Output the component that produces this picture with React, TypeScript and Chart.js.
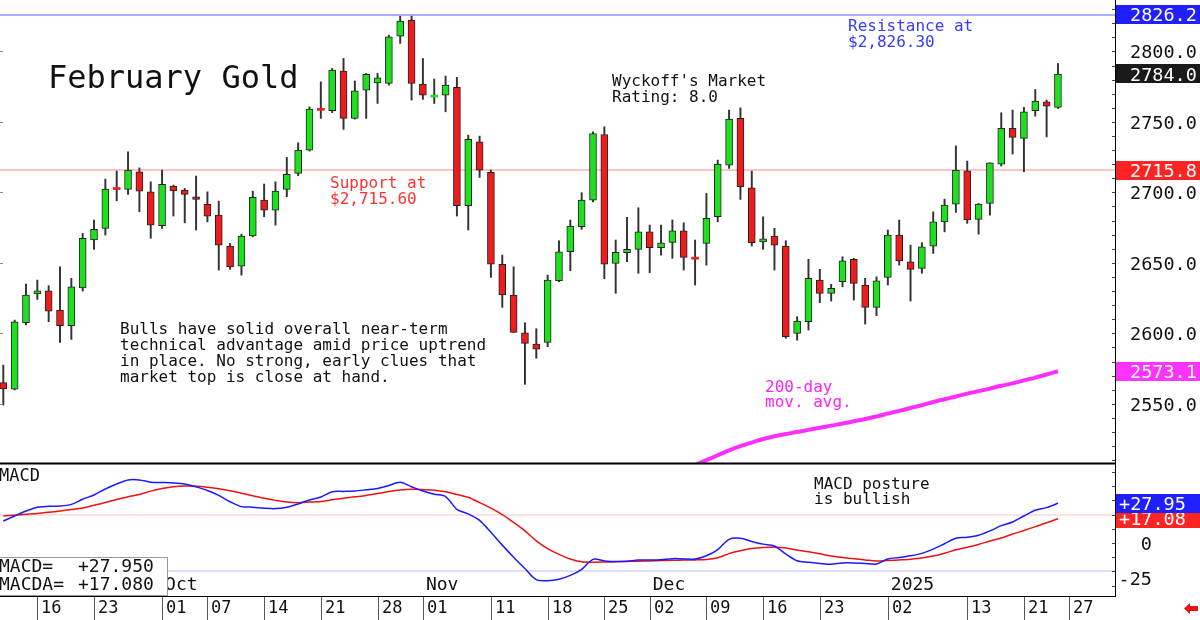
import React, { useEffect, useRef } from "react";
import { Chart, registerables } from "chart.js";
Chart.register(...registerables);

// ---- data (trading days from Sep 11 2024 to Jan 24 2025) ----
const opens = [
  2565.0, 2560.3, 2607.5, 2627.9, 2630.2, 2616.5, 2605.4, 2632.3, 2666.2, 2674.5,
  2703.4, 2702.1, 2714.6, 2700.4, 2676.3, 2704.5, 2701.6, 2696.9, 2691.5, 2683.9,
  2661.9, 2647.7, 2669.2, 2694.5, 2687.4, 2702.1, 2713.5, 2730.0, 2759.3, 2757.9,
  2786.0, 2752.5, 2772.6, 2777.7, 2777.3, 2810.8, 2822.2, 2776.8, 2767.6, 2769.0,
  2774.5, 2690.5, 2735.9, 2714.2, 2648.9, 2627.2, 2600.4, 2592.4, 2593.6, 2637.3,
  2657.9, 2675.6, 2694.5, 2741.1, 2649.6, 2657.2, 2659.6, 2672.0, 2660.7, 2664.5,
  2672.8, 2653.8, 2663.8, 2682.7, 2719.4, 2752.5, 2703.3, 2664.9, 2669.0, 2661.9,
  2600.0, 2608.2, 2637.8, 2628.4, 2636.6, 2652.5, 2634.3, 2618.4, 2639.7, 2669.7,
  2650.8, 2646.1, 2661.9, 2679.1, 2691.7, 2715.3, 2680.9, 2692.2, 2720.0, 2745.4,
  2738.3, 2757.9, 2764.3, 2760.3,
];
const highs = [
  2577.5, 2609.4, 2635.0, 2637.8, 2633.8, 2647.2, 2639.0, 2670.9, 2680.4, 2709.4,
  2715.1, 2728.8, 2717.4, 2707.5, 2715.8, 2705.2, 2702.8, 2711.6, 2700.4, 2693.8,
  2663.8, 2670.4, 2700.9, 2705.9, 2707.5, 2724.8, 2735.2, 2760.7, 2778.4, 2788.0,
  2795.0, 2779.0, 2784.4, 2784.4, 2811.6, 2825.0, 2825.0, 2795.0, 2780.4, 2782.5,
  2781.6, 2740.6, 2739.9, 2715.8, 2655.5, 2647.2, 2607.5, 2603.3, 2641.3, 2665.7,
  2680.4, 2699.8, 2743.0, 2746.5, 2666.2, 2682.3, 2689.1, 2676.8, 2676.8, 2680.4,
  2678.4, 2666.2, 2699.3, 2722.9, 2758.4, 2760.0, 2715.1, 2682.7, 2674.5, 2665.7,
  2611.8, 2652.5, 2645.4, 2634.8, 2654.3, 2653.2, 2639.0, 2640.1, 2673.3, 2680.4,
  2662.6, 2664.3, 2686.2, 2695.2, 2733.0, 2722.2, 2692.2, 2721.0, 2756.5, 2758.4,
  2760.3, 2773.0, 2765.5, 2791.5,
];
const lows = [
  2549.1, 2559.8, 2606.0, 2624.1, 2608.2, 2593.6, 2595.7, 2630.0, 2659.6, 2669.7,
  2694.0, 2698.6, 2686.2, 2667.4, 2674.5, 2683.2, 2678.4, 2673.3, 2679.1, 2644.9,
  2645.4, 2641.3, 2668.5, 2682.7, 2676.8, 2696.9, 2711.8, 2729.3, 2752.5, 2756.5,
  2744.7, 2752.0, 2752.5, 2763.1, 2776.1, 2805.7, 2765.5, 2766.0, 2763.1, 2757.2,
  2683.2, 2673.3, 2710.6, 2639.7, 2618.4, 2600.7, 2563.8, 2582.3, 2590.5, 2636.6,
  2644.4, 2673.8, 2693.3, 2638.8, 2628.4, 2650.8, 2642.6, 2643.0, 2655.5, 2653.2,
  2644.9, 2634.3, 2648.4, 2679.1, 2717.0, 2695.0, 2661.9, 2659.6, 2644.9, 2596.5,
  2595.2, 2602.3, 2621.7, 2622.9, 2633.0, 2623.6, 2606.6, 2612.5, 2634.3, 2648.4,
  2622.9, 2642.6, 2656.7, 2672.0, 2685.8, 2678.0, 2670.4, 2683.9, 2718.7, 2727.2,
  2714.6, 2754.1, 2739.4, 2759.5,
];
const closes = [
  2560.5, 2608.2, 2627.2, 2630.2, 2615.8, 2605.4, 2633.0, 2667.4, 2673.8, 2702.3,
  2702.0, 2715.8, 2700.9, 2676.8, 2705.7, 2701.1, 2698.6, 2695.0, 2683.2, 2662.6,
  2647.2, 2669.0, 2696.5, 2687.4, 2700.9, 2712.8, 2730.0, 2759.1, 2758.2, 2786.7,
  2752.5, 2772.0, 2783.7, 2781.2, 2810.4, 2821.6, 2777.3, 2769.0, 2768.9, 2776.1,
  2690.5, 2737.6, 2715.8, 2649.1, 2627.2, 2600.7, 2592.9, 2588.7, 2637.8, 2657.9,
  2676.1, 2694.5, 2741.8, 2649.1, 2657.4, 2659.6, 2672.0, 2660.7, 2664.3, 2672.8,
  2653.9, 2652.6, 2681.6, 2720.1, 2752.0, 2704.0, 2664.3, 2667.0, 2662.6, 2597.6,
  2608.7, 2639.0, 2628.4, 2631.9, 2651.5, 2635.5, 2618.4, 2637.3, 2669.7, 2651.3,
  2645.4, 2661.4, 2679.1, 2691.0, 2715.8, 2680.4, 2691.7, 2721.0, 2745.4, 2739.0,
  2757.2, 2764.8, 2761.2, 2784.0,
];
const macdLine = [
  15.5, 19.0, 22.5, 25.2, 25.8, 26.0, 27.2, 30.8, 33.8, 38.0,
  41.5, 44.4, 44.4, 42.8, 42.6, 42.3, 41.5, 39.5, 37.0, 33.5,
  29.0, 25.6, 25.2, 24.5, 24.2, 25.2, 27.5, 30.3, 32.4, 36.1,
  36.3, 36.6, 37.4, 38.3, 40.5, 42.7, 39.6, 36.6, 34.3, 32.7,
  23.7, 20.5, 15.9, 7.5, -1.5, -10.0, -18.0, -25.8, -26.5, -25.5,
  -22.8, -18.5, -11.5, -12.6, -13.1, -12.8, -12.0, -12.0, -11.8, -11.0,
  -11.2, -11.3, -9.0, -4.6, 2.6, 3.3, 1.1, -0.8, -2.1, -7.7,
  -12.5, -13.5, -14.4, -15.0, -14.0, -14.0, -14.4, -14.8, -11.2, -10.2,
  -9.0, -7.3, -4.3, -0.5, 3.3, 4.0, 5.4, 8.5, 12.2, 14.8,
  19.0, 23.0, 24.9, 27.95,
];
const signalLine = [
  19.0, 19.6, 20.2, 20.8, 21.6, 22.5, 23.5, 24.6, 26.5, 28.5,
  30.6, 32.6, 34.2, 36.5, 38.3, 39.6, 40.1, 39.9, 39.2, 38.2,
  36.8, 35.0, 33.3, 31.5, 30.0, 28.8, 28.4, 28.8, 29.2, 30.4,
  31.5, 32.5, 33.5, 34.8, 36.2, 37.3, 37.8, 37.6, 37.2, 36.1,
  34.2, 32.2, 28.4, 24.5, 20.0, 14.5, 8.5, 1.5, -4.0, -8.0,
  -11.3, -13.2, -13.5, -13.4, -13.2, -13.0, -12.8, -12.6, -12.4, -12.2,
  -12.0, -11.9, -11.6, -10.4, -7.5, -5.5, -3.9, -3.1, -3.0, -3.5,
  -5.0, -6.2, -7.6, -9.2, -10.2, -11.0, -11.9, -12.7, -12.3, -11.9,
  -11.4, -10.6, -9.2, -7.2, -4.8, -3.0, -1.0, 1.4, 3.5, 6.3,
  8.8, 11.5, 14.2, 17.08,
];
const maStartIndex = 60;
const ma200 = [
  2503.0, 2506.5, 2510.0, 2513.5, 2517.0, 2520.0, 2522.5, 2525.0, 2527.0, 2528.6,
  2530.0, 2531.5, 2533.0, 2534.5, 2536.0, 2537.6, 2539.2, 2541.0, 2543.0, 2545.0,
  2547.0, 2549.0, 2551.3, 2553.2, 2555.2, 2557.2, 2559.0, 2560.8, 2562.8, 2564.5,
  2566.6, 2568.6, 2570.8, 2573.1,
];
const priceTicks = [2550, 2600, 2650, 2700, 2750, 2800];
const macdTicks = [-25, 0];
const macdBands = [20, -20];
const dayTickIndex = [3, 8, 14, 18, 23, 28, 33, 37, 43, 48, 53, 57, 62, 67, 72, 78, 85, 90, 94];
const dayTickLabels = ["16", "23", "01", "07", "14", "21", "28", "01", "11", "18", "25", "02", "09", "16", "23", "02", "13", "21", "27"];
const monthTickIndex = [14, 37, 57, 78];
const monthTickLabels = ["Oct", "Nov", "Dec", "2025"];
const resistanceLevel = 2826.2;
const supportLevel = 2715.8;
const lastClose = 2784.0;
const lastMA = 2573.1;
const lastMacd = 27.95;
const lastSignal = 17.08;

const MONO = '"DejaVu Sans Mono", monospace';
const GREEN = "#1ee01e";
const RED = "#ee1c1c";

function txt(ctx: CanvasRenderingContext2D, s: string, x: number, y: number, size: number, color: string, align: CanvasTextAlign = "left") {
  ctx.font = `${size}px ${MONO}`;
  ctx.fillStyle = color;
  ctx.textAlign = align;
  ctx.textBaseline = "alphabetic";
  ctx.fillText(s, x, y);
}

const overlay = {
  id: "overlay",
  beforeDatasetsDraw(chart: any) {
    const { ctx, chartArea: ca, scales } = chart;
    const y = scales.y, y2 = scales.y2;
    ctx.save();
    const hl = (sc: any, v: number, c: string) => {
      ctx.fillStyle = c;
      ctx.fillRect(ca.left, Math.round(sc.getPixelForValue(v)) - 0.5, ca.right - ca.left, 1);
    };
    hl(y, resistanceLevel, "#5c5cff");
    hl(y, supportLevel, "#ff8a8a");
    hl(y2, macdBands[0], "#ffc4c4");
    hl(y2, macdBands[1], "#bcbcff");
    ctx.restore();
  },
  afterDatasetsDraw(chart: any) {
    const { ctx, chartArea: ca, scales } = chart;
    const x = scales.x, y = scales.y, y2 = scales.y2;
    ctx.save();
    // panel borders
    ctx.fillStyle = "#000";
    ctx.fillRect(ca.left, y.bottom - 0.5, ca.right - ca.left, 2);
    ctx.fillRect(ca.left, ca.bottom, ca.right - ca.left + 1, 1);
    ctx.fillRect(ca.right, 0, 1, ca.bottom + 1);
    // minor ticks on right axis
    ctx.fillStyle = "#444";
    for (let v = 2510; v <= 2830; v += 10) {
      const py = Math.round(y.getPixelForValue(v));
      if (py > y.top && py < y.bottom) ctx.fillRect(ca.right - 3, py, 3, 1);
    }
    for (let v = -30; v <= 50; v += 10) {
      const py = Math.round(y2.getPixelForValue(v));
      if (py > y2.top + 2 && py < y2.bottom) ctx.fillRect(ca.right - 3, py, 3, 1);
    }
    // left edge ticks
    ctx.fillStyle = "#888";
    priceTicks.forEach((v) => ctx.fillRect(0, Math.round(y.getPixelForValue(v)), 3, 1));
    // axis labels
    priceTicks.forEach((v) => txt(ctx, v.toFixed(1), 1130, y.getPixelForValue(v) + 6.7, 18.5, "#111"));
    macdTicks.forEach((v) => txt(ctx, String(v), 1152, y2.getPixelForValue(v) + 6.7, 18.5, "#111", "right"));
    // badges
    const badge = (sc: any, v: number, label: string, bg: string, tx: number) => {
      const py = sc.getPixelForValue(v);
      ctx.fillStyle = bg;
      ctx.fillRect(ca.right + 1, Math.round(py - 9.5), 1200 - ca.right, 19);
      txt(ctx, label, tx, py + 6.7, 18.5, "#fff");
    };
    badge(y, resistanceLevel, resistanceLevel.toFixed(1), "#1f1fff", 1130);
    badge(y, lastClose, lastClose.toFixed(1), "#1a1a1a", 1130);
    badge(y, supportLevel, supportLevel.toFixed(1), "#ff2424", 1130);
    badge(y, lastMA, lastMA.toFixed(1), "#ff33ff", 1130);
    badge(y2, lastSignal, "+" + lastSignal.toFixed(2), "#ff2424", 1119);
    badge(y2, lastMacd, "+" + lastMacd.toFixed(2), "#1f1fff", 1119);
    // annotations
    txt(ctx, "February Gold", 48, 88, 32, "#111");
    txt(ctx, "Resistance at", 848, 30.5, 16, "#3a3aff");
    txt(ctx, "$2,826.30", 848, 46.5, 16, "#3a3aff");
    txt(ctx, "Wyckoff's Market", 612, 86, 16, "#111");
    txt(ctx, "Rating: 8.0", 612, 101.5, 16, "#111");
    txt(ctx, "Support at", 330, 188, 16, "#ff3030");
    txt(ctx, "$2,715.60", 330, 203.5, 16, "#ff3030");
    const notes = [
      "Bulls have solid overall near-term",
      "technical advantage amid price uptrend",
      "in place. No strong, early clues that",
      "market top is close at hand.",
    ];
    notes.forEach((s, i) => txt(ctx, s, 120, 333.5 + i * 16.2, 16, "#111"));
    txt(ctx, "200-day", 765, 391.5, 16, "#ff22ff");
    txt(ctx, "mov. avg.", 765, 407, 16, "#ff22ff");
    txt(ctx, "MACD", -1, 481, 17, "#111");
    txt(ctx, "MACD posture", 814, 489, 16, "#111");
    txt(ctx, "is bullish", 814, 504, 16, "#111");
    // month labels
    monthTickIndex.forEach((i, k) => txt(ctx, monthTickLabels[k], x.getPixelForValue(i) + 3, 590, 18, "#111"));
    // day ticks
    dayTickIndex.forEach((i, k) => {
      const px = Math.round(x.getPixelForValue(i));
      ctx.fillStyle = "#555";
      ctx.fillRect(px, ca.bottom + 1, 1, 24);
      txt(ctx, dayTickLabels[k], px + 4, 613, 17, "#111");
    });
    // values box
    ctx.fillStyle = "#fff";
    ctx.fillRect(-1, 557, 169, 39);
    ctx.strokeStyle = "#9a9a9a";
    ctx.lineWidth = 1;
    ctx.strokeRect(-0.5, 557.5, 168, 38);
    txt(ctx, "MACD=", -1, 572, 18, "#111");
    txt(ctx, "+" + lastMacd.toFixed(3), 78, 572, 18, "#111");
    txt(ctx, "MACDA=", -1, 590, 18, "#111");
    txt(ctx, "+" + lastSignal.toFixed(3), 78, 590, 18, "#111");
    // red arrow
    ctx.fillStyle = "#ee1111";
    ctx.beginPath();
    ctx.moveTo(1184, 608.5);
    ctx.lineTo(1190, 603);
    ctx.lineTo(1190, 606);
    ctx.lineTo(1198, 606);
    ctx.lineTo(1198, 611);
    ctx.lineTo(1190, 611);
    ctx.lineTo(1190, 614);
    ctx.closePath();
    ctx.fill();
    ctx.restore();
  },
};

export default function App() {
  const ref = useRef<HTMLCanvasElement | null>(null);
  useEffect(() => {
    if (!ref.current) return;
    const isUp = (i: number) => closes[i] >= opens[i];
    const chart = new Chart(ref.current, {
      type: "bar",
      data: {
        datasets: [
          {
            type: "bar",
            label: "bodies",
            data: opens.map((o, i) => ({ x: i, y: [o, closes[i]] })) as any,
            xAxisID: "x",
            yAxisID: "y",
            grouped: false,
            barThickness: 7,
            minBarLength: 2,
            borderSkipped: false,
            backgroundColor: (c: any) => (isUp(c.dataIndex) ? GREEN : RED),
            borderColor: "#222",
            borderWidth: (c: any) => (Math.abs(closes[c.dataIndex] - opens[c.dataIndex]) < 1.6 ? 0 : 1),
            order: 1,
          } as any,
          {
            type: "bar",
            label: "wicks",
            data: lows.map((l, i) => ({ x: i, y: [l, highs[i]] })) as any,
            xAxisID: "x",
            yAxisID: "y",
            grouped: false,
            barThickness: 1.3,
            borderSkipped: false,
            backgroundColor: "#333",
            borderWidth: 0,
            order: 2,
          } as any,
          {
            type: "line",
            label: "200-day",
            data: ma200.map((v, k) => ({ x: maStartIndex + k, y: v })),
            xAxisID: "x",
            yAxisID: "y",
            borderColor: "#ff2eff",
            borderWidth: 4,
            pointRadius: 0,
            tension: 0.3,
            order: 3,
          } as any,
          {
            type: "line",
            label: "MACDA",
            data: signalLine.map((v, i) => ({ x: i, y: v })),
            xAxisID: "x",
            yAxisID: "y2",
            borderColor: "#ee1111",
            borderWidth: 1.5,
            pointRadius: 0,
            tension: 0.3,
            order: 5,
          } as any,
          {
            type: "line",
            label: "MACD",
            data: macdLine.map((v, i) => ({ x: i, y: v })),
            xAxisID: "x",
            yAxisID: "y2",
            borderColor: "#1a1aff",
            borderWidth: 1.5,
            pointRadius: 0,
            tension: 0.3,
            order: 4,
          } as any,
        ],
      },
      options: {
        animation: false,
        responsive: true,
        maintainAspectRatio: false,
        devicePixelRatio: 1,
        events: [],
        layout: { padding: { left: 0, right: 85, top: 0, bottom: 24 } },
        plugins: { legend: { display: false }, tooltip: { enabled: false } },
        scales: {
          x: { type: "linear", min: -0.291, max: 98.03, offset: false, display: false, grid: { display: false } },
          y: {
            type: "linear", position: "right", stack: "panels", stackWeight: 463,
            min: 2508, max: 2836.5, display: false, beginAtZero: false, grid: { display: false },
          },
          y2: {
            type: "linear", position: "right", stack: "panels", stackWeight: 133,
            min: -37.3, max: 56.3, display: false, beginAtZero: false, grid: { display: false },
          },
        },
      } as any,
      plugins: [overlay],
    });
    return () => chart.destroy();
  }, []);
  return (
    <div style={{ position: "fixed", left: 0, top: 0, width: 1200, height: 620, background: "#fff" }}>
      <canvas ref={ref} />
    </div>
  );
}
